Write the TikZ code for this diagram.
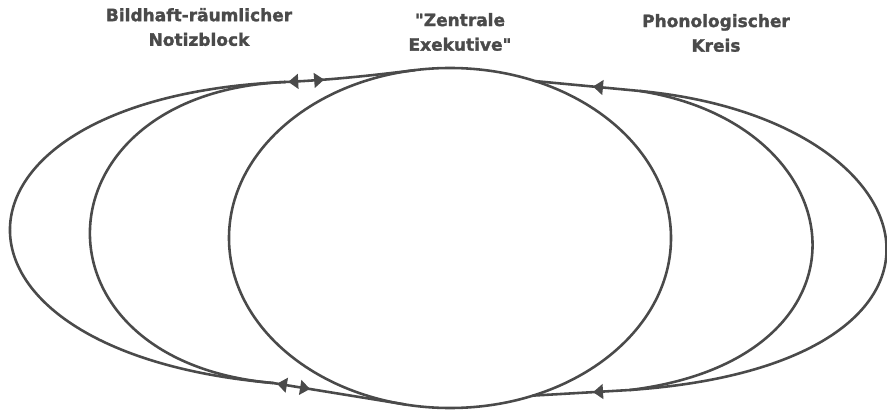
\documentclass[tikz,border=0pt]{standalone}
\usepackage{fontspec}
\setmainfont{DejaVu Sans}
\newfontfamily\lblfont{DejaVu Sans Bold}[Ligatures=TeXOff,FakeBold=1.6]
\usetikzlibrary{arrows.meta,decorations.markings,shapes.geometric}
\definecolor{ink}{HTML}{4A4A4A}
\begin{document}
\begin{tikzpicture}[x=0.03cm,y=0.03cm,
  >={Triangle[length=8.5pt,width=12.5pt]},
  stroke/.style={color=ink,line width=2.2pt,line cap=round},
  lbl/.style={font=\lblfont\fontsize{14.5}{21}\selectfont,text=ink,align=center,inner sep=0pt},
  twoway/.style 2 args={postaction={decorate},decoration={markings,
      mark=at position #1 with {\arrowreversed{>}},
      mark=at position #2 with {\arrow{>}}}},
  backtip/.style={postaction={decorate},decoration={markings,
      mark=at position #1 with {\arrowreversed{>}}}}]
\useasboundingbox (0,0) rectangle (887,410);
% central executive
\node[ellipse,draw=ink,line width=2.2pt,minimum width=13.26cm,minimum height=10.2cm,inner sep=0pt] (ze) at (450,172) {};
% junction points on the central ellipse
\path (ze.center) ++(99.1:221 and 170) coordinate (TL);
\path (ze.center) ++(258.3:221 and 170) coordinate (BL);
\path (ze.center) ++(67.4:221 and 170) coordinate (TR);
\path (ze.center) ++(-68:221 and 170) coordinate (BR);
% branch points of the loops
\coordinate (ML) at (285,328);
\coordinate (MLb) at (273,27);
\coordinate (MR) at (640,319);
\coordinate (MRb) at (630,20);
% connectors with arrowheads
\draw[stroke,twoway={0.70}{0.975}] (TL) .. controls +(187:45) and +(2.5:45) .. (ML);
\draw[stroke,twoway={0.72}{0.97}] (BL) -- (MLb);
\draw[stroke,backtip=0.553] (TR) -- (MR);
\draw[stroke,backtip=0.62] (BR) -- (MRb);
% loops
\draw[stroke] (ML) .. controls +(182.5:359.5) and +(175:359.5) .. (MLb);
\draw[stroke] (ML) .. controls +(182.5:252.6) and +(175:252.6) .. (MLb);
\draw[stroke] (MR) .. controls +(-5.4:300) and +(4:372) .. (MRb);
\draw[stroke] (MR) .. controls +(-9:222) and +(7:256) .. (MRb);
% labels
\node[lbl] (vs) at (199,383) {Bildhaft-räumlicher\\Notizblock};
\node[lbl] (ce) at (460,378) {"Zentrale\\Exekutive"};
\node[lbl] (pk) at (716,377) {Phonologischer\\Kreis};
\end{tikzpicture}
\end{document}
